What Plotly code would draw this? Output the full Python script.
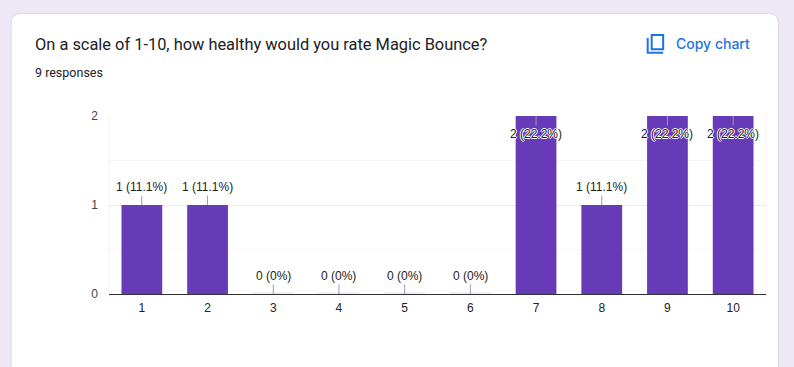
import plotly.graph_objects as go

categories = ["1", "2", "3", "4", "5", "6", "7", "8", "9", "10"]
counts = [1, 1, 0, 0, 0, 0, 2, 1, 2, 2]
bar_labels = ["1 (11.1%)", "1 (11.1%)", "0 (0%)", "0 (0%)", "0 (0%)", "0 (0%)",
              "2 (22.2%)", "1 (11.1%)", "2 (22.2%)", "2 (22.2%)"]
y_ticks = [0, 1, 2]
minor_ticks = [0.5, 1.5]
title_text = "On a scale of 1-10, how healthy would you rate Magic Bounce?"
subtitle_text = "9 responses"
copy_text = "Copy chart"

W, H = 794, 367
L, R, T, B = 108.5, 766.5, 115.5, 294.5
BAR_W = 0.62
PURPLE = "#673ab7"
BLUE = "#1a73e8"
ARIAL = "Liberation Sans, Arial, sans-serif"


def px(x):
    return (x - L) / (R - L)


def py(y):
    return (B - y) / (B - T)


def pt(x, y):
    return f"{px(x):.5f},{py(y):.5f}"


fig = go.Figure(go.Bar(x=categories, y=counts, width=BAR_W, marker=dict(color=PURPLE, line_width=0),
                       hoverinfo="skip", showlegend=False))

shapes = []
# card
r = 10
card = (f"M {pt(10.5, 12.5 + r)} Q {pt(10.5, 12.5)} {pt(10.5 + r, 12.5)} L {pt(779 - r, 12.5)} "
        f"Q {pt(779, 12.5)} {pt(779, 12.5 + r)} L {pt(779, 375)} L {pt(10.5, 375)} Z")
shapes.append(dict(type="path", xref="paper", yref="paper", path=card, fillcolor="#ffffff",
                   line=dict(color="#dadce0", width=1), layer="below"))
# copy icon
shapes.append(dict(type="path", xref="paper", yref="paper",
                   path=f"M {pt(652, 34)} L {pt(663.5, 34)} L {pt(663.5, 48.5)} L {pt(652, 48.5)} Z",
                   line=dict(color=BLUE, width=2), layer="above"))
shapes.append(dict(type="path", xref="paper", yref="paper",
                   path=f"M {pt(648, 37)} L {pt(648, 52)} L {pt(663.5, 52)}",
                   line=dict(color=BLUE, width=2), layer="above"))
# minor grid and frame sides
for m in minor_ticks:
    shapes.append(dict(type="line", xref="paper", yref="y", x0=0, x1=1, y0=m, y1=m,
                       line=dict(color="#f6f6f6", width=1), layer="below"))
for side in (0, 1):
    shapes.append(dict(type="line", xref="paper", yref="paper", x0=side, x1=side, y0=0, y1=1,
                       line=dict(color="#f3f3f3", width=1), layer="below"))
# faint sliver of the empty bars, just above the axis
for i, v in enumerate(counts):
    if v == 0:
        shapes.append(dict(type="line", xref="x", yref="y", ysizemode="pixel", yanchor=v,
                           x0=i - BAR_W / 2, x1=i + BAR_W / 2, y0=1, y1=1,
                           line=dict(color="#e3ddf2", width=1), layer="above"))

annotations = [
    dict(text=title_text, x=px(32), y=py(44), xref="paper", yref="paper", xanchor="left", yanchor="middle",
         showarrow=False, font=dict(family="Roboto", size=16.4, color="#202124")),
    dict(text=subtitle_text, x=px(32), y=py(71.5), xref="paper", yref="paper", xanchor="left", yanchor="middle",
         showarrow=False, font=dict(family="Roboto", size=12.5, color="#202124")),
    dict(text=copy_text, x=px(674), y=py(42.5), xref="paper", yref="paper", xanchor="left", yanchor="middle",
         showarrow=False, font=dict(family="Inter", size=14, weight=500, color=BLUE)),
]
shadow = "1px 0 0 #fff, -1px 0 0 #fff, 0 1px 0 #fff, 0 -1px 0 #fff"
for i, (v, t) in enumerate(zip(counts, bar_labels)):
    top = v == max(counts)
    annotations.append(dict(x=i, y=v, xref="x", yref="y", text=t, showarrow=True, arrowhead=0, arrowwidth=1,
                            arrowcolor="#9aa0a6", ax=0, ay=18 if top else -18, standoff=0,
                            font=dict(family=ARIAL, size=12, color="#222222", shadow=shadow)))

fig.update_layout(
    width=W, height=H, autosize=False,
    margin=dict(l=L, r=W - R, t=T, b=H - B, pad=0),
    paper_bgcolor="#ede7f6", plot_bgcolor="rgba(0,0,0,0)",
    shapes=shapes, annotations=annotations, showlegend=False,
    xaxis=dict(type="category", categoryorder="array", categoryarray=categories, range=[-0.5, 9.5],
               showgrid=False, ticks="", showline=False, zeroline=False, ticklabelstandoff=5,
               tickfont=dict(family=ARIAL, size=12, color="#222222"), ticklen=0),
    yaxis=dict(range=[0, 2], tickvals=y_ticks, showgrid=True, gridcolor="#ebebeb", gridwidth=1,
               zeroline=True, zerolinecolor="#333333", zerolinewidth=1, showline=False, ticks="",
               ticklabelstandoff=10,
               tickfont=dict(family=ARIAL, size=12, color="#444444")),
)
fig.write_html("out.html", config={"displayModeBar": False},
               post_script="document.body.style.margin='0';document.body.style.background='#ede7f6';")
